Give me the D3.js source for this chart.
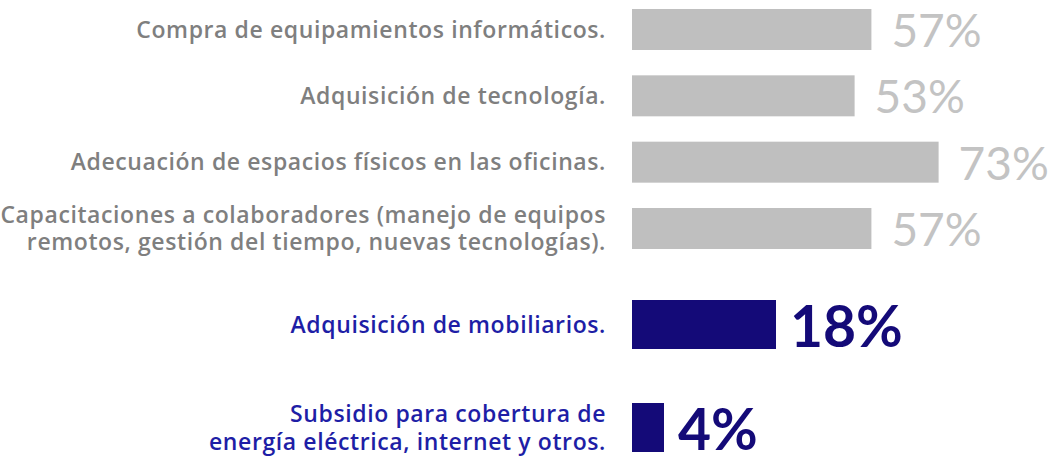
<!DOCTYPE html>
<html lang="es">
<head>
    <meta charset="UTF-8">
    <title>Inversiones</title>
    <script src="https://d3js.org/d3.v7.min.js"></script>
    <style>
        body { margin: 0; background: #fff; font-family: "Open Sans", sans-serif; }
        svg { display: block; }
        .lbl { letter-spacing: 0.6px; }
        .pct { font-family: Lato, sans-serif; }
    </style>
</head>
<body>
    <svg width="1051" height="458"></svg>
    <script>
        // grupo gris
        const grayLabels = [
            "Compra de equipamientos informáticos.",
            "Adquisición de tecnología.",
            "Adecuación de espacios físicos en las oficinas.",
            "Capacitaciones a colaboradores (manejo de equipos\nremotos, gestión del tiempo, nuevas tecnologías)."
        ];
        const grayValues = [57, 53, 73, 57];

        // grupo destacado
        const blueLabels = [
            "Adquisición de mobiliarios.",
            "Subsidio para cobertura de\nenergía eléctrica, internet y otros."
        ];
        const blueValues = [18, 4];

        const svg = d3.select("svg");
        const labelRight = 606;
        const barLeft = 632;

        function drawGroup(labels, values, opt) {
            const y = d3.scalePoint().domain(labels).range(opt.yRange);
            const x = d3.scaleLinear().domain([0, 100]).range([0, opt.maxLen]);
            const g = svg.append("g");

            g.selectAll("rect")
                .data(labels)
                .enter().append("rect")
                .attr("x", barLeft)
                .attr("y", d => y(d) - opt.barH / 2)
                .attr("width", (d, i) => x(values[i]))
                .attr("height", opt.barH)
                .attr("fill", opt.barColor);

            // etiquetas de categoría
            labels.forEach(d => {
                const lines = d.split("\n");
                const t = g.append("text")
                    .attr("class", "lbl")
                    .attr("x", labelRight)
                    .attr("text-anchor", "end")
                    .attr("font-size", opt.labelSize)
                    .attr("font-weight", opt.labelWeight)
                    .attr("fill", opt.labelColor);
                lines.forEach((line, k) => {
                    t.append("tspan")
                        .attr("x", labelRight)
                        .attr("y", y(d) + (k - (lines.length - 1) / 2) * opt.lineH)
                        .attr("dy", "0.35em")
                        .text(line);
                });
            });

            // porcentajes
            g.selectAll(".pct")
                .data(labels)
                .enter().append("text")
                .attr("class", "pct")
                .attr("x", (d, i) => barLeft + x(values[i]) + opt.gap)
                .attr("y", d => y(d))
                .attr("dy", opt.pctDy)
                .attr("font-size", opt.pctSize)
                .attr("font-weight", opt.pctWeight)
                .attr("fill", opt.pctColor)
                .text((d, i) => values[i] + "%");
        }

        drawGroup(grayLabels, grayValues, {
            yRange: [29.5, 228.5], maxLen: 420, barH: 41,
            barColor: "#bfbfbf", labelColor: "#7f7f7f", labelSize: 23, labelWeight: 600,
            lineH: 27, pctColor: "#c3c3c3", pctSize: 46, pctWeight: 400, gap: 20, pctDy: "0.38em"
        });

        drawGroup(blueLabels, blueValues, {
            yRange: [324.5, 427.5], maxLen: 800, barH: 49,
            barColor: "#140a78", labelColor: "#1e1ea6", labelSize: 23, labelWeight: 600,
            lineH: 28, pctColor: "#140a78", pctSize: 57, pctWeight: 700, gap: 14, pctDy: "0.4em"
        });
    </script>
</body>
</html>
